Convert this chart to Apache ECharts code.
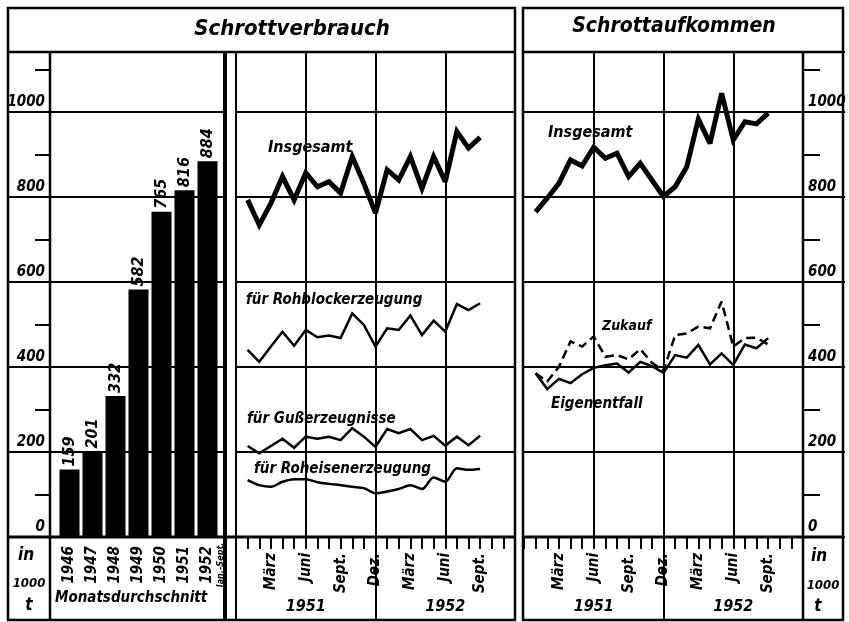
<!DOCTYPE html>
<html>
<head>
<meta charset="utf-8">
<title>Schrottverbrauch / Schrottaufkommen</title>
<script src="https://cdn.jsdelivr.net/npm/echarts@6/dist/echarts.min.js"></script>
<style>
  html, body { margin: 0; padding: 0; background: #fff; }
  #main { width: 849px; height: 622px; }
</style>
</head>
<body>
<div id="main"></div>
<script>
// Monatsdurchschnitt, in 1000 t
var years = ['1946', '1947', '1948', '1949', '1950', '1951', '1952'];
var monthlyAvg = [159, 201, 332, 582, 765, 816, 884];

// Monatsachse Dez. 1950 ... Dez. 1952
var monthKeys = ['1950-12',
  '1951-01', '1951-02', '1951-03', '1951-04', '1951-05', '1951-06',
  '1951-07', '1951-08', '1951-09', '1951-10', '1951-11', '1951-12',
  '1952-01', '1952-02', '1952-03', '1952-04', '1952-05', '1952-06',
  '1952-07', '1952-08', '1952-09', '1952-10', '1952-11', '1952-12'];
var monthLabels = ['',
  '', '', 'März', '', '', 'Juni', '', '', 'Sept.', '', '', 'Dez.',
  '', '', 'März', '', '', 'Juni', '', '', 'Sept.', '', '', ''];
var yearLabels = ['',
  '', '', '', '', '', '1951', '', '', '', '', '', '',
  '', '', '', '', '', '1952', '', '', '', '', '', ''];

// Monatswerte Jan. 1951 - Sept. 1952, in 1000 t
var firstMonth = '1951-01';
var verbrauchGesamt = [793, 734, 785, 848, 793, 857, 824, 836, 809, 895, 832, 762, 864, 840, 895, 820, 895, 836, 954, 915, 940];
var rohblock = [440, 412, 448, 483, 450, 487, 470, 474, 468, 526, 499, 448, 491, 487, 521, 475, 509, 483, 548, 534, 550];
var guss = [214, 197, 214, 231, 210, 236, 231, 236, 228, 256, 236, 212, 254, 244, 254, 228, 238, 215, 236, 216, 238];
var roheisen = [134, 122, 118, 130, 136, 136, 129, 125, 122, 118, 115, 103, 107, 113, 122, 113, 140, 130, 162, 158, 160];
var aufkommenGesamt = [765, 797, 832, 887, 873, 917, 891, 903, 848, 879, 840, 801, 824, 871, 983, 926, 1044, 934, 977, 972, 997];
var zukauf = [385, 366, 400, 460, 448, 472, 424, 428, 418, 442, 410, 391, 475, 479, 495, 491, 554, 448, 468, 469, 453];
var eigenentfall = [385, 348, 372, 362, 383, 398, 404, 408, 387, 412, 402, 386, 428, 422, 452, 406, 432, 405, 453, 444, 468];

var FAMILY = '"Liberation Sans Narrow", "DejaVu Sans Condensed", "Liberation Sans", sans-serif';
var INK = '#000';
var Y_MAX = 1141;

function txt(size) {
  return { color: INK, fontFamily: FAMILY, fontStyle: 'italic', fontWeight: 'bold', fontSize: size };
}

// Monatswerte auf die Kategorieachse legen
function toPoints(arr) {
  var start = monthKeys.indexOf(firstMonth);
  return arr.map(function (v, i) { return [start + i, v]; });
}

function lineSeries(name, data, axisIndex, width, extra) {
  var s = {
    name: name,
    type: 'line',
    xAxisIndex: axisIndex,
    yAxisIndex: axisIndex === 2 ? 3 : 5,
    data: toPoints(data),
    showSymbol: false,
    symbol: 'none',
    silent: true,
    lineStyle: { color: INK, width: width, join: 'miter', miterLimit: 3, cap: 'butt' },
    z: 5
  };
  if (extra) {
    for (var k in extra) s[k] = extra[k];
  }
  return s;
}

// Monatsachse (Striche + Monatsnamen + Gitter)
function monthAxis(grid) {
  return {
    type: 'category', gridIndex: grid, position: 'bottom', data: monthKeys, boundaryGap: false,
    axisLine: { show: false },
    axisTick: { show: true, interval: 0, length: 12, lineStyle: { color: INK, width: 2 } },
    axisLabel: {
      interval: function (i) { return monthLabels[i] !== ''; },
      formatter: function (v, i) { return monthLabels[i]; },
      rotate: 90, margin: 16, ...txt(15)
    },
    splitLine: {
      show: true,
      interval: function (i) { return i > 0 && i < monthKeys.length - 1 && i % 6 === 0; },
      lineStyle: { color: INK, width: 2 }
    }
  };
}

// Jahreszahlen unter der Monatsachse + Trennstrich am Jahresende
function yearAxis(grid) {
  return {
    type: 'category', gridIndex: grid, position: 'bottom', data: monthKeys, boundaryGap: false,
    axisLine: { show: false },
    axisTick: {
      show: true, length: 83,
      interval: function (i) { return monthKeys[i] === '1951-12'; },
      lineStyle: { color: INK, width: 2 }
    },
    axisLabel: {
      interval: function (i) { return yearLabels[i] !== ''; },
      formatter: function (v, i) { return yearLabels[i]; },
      margin: 62, ...txt(16)
    },
    splitLine: { show: false }
  };
}

// kleine Striche alle 100
function minorY(grid, pos, len) {
  return {
    type: 'value', gridIndex: grid, position: pos, min: 0, max: Y_MAX, interval: 100,
    axisLine: { show: false },
    axisTick: { show: true, length: len, lineStyle: { color: INK, width: 2 } },
    axisLabel: { show: false },
    splitLine: { show: false }
  };
}

// Hauptteilung alle 200 mit Beschriftung
function majorY(grid, pos, labels) {
  return {
    type: 'value', gridIndex: grid, position: pos, min: 0, max: Y_MAX, interval: 200,
    axisLine: { show: false },
    axisTick: { show: labels, length: 42, lineStyle: { color: INK, width: 2 } },
    axisLabel: {
      show: labels, margin: 5, verticalAlign: 'bottom', padding: [0, 0, 2, 0],
      formatter: function (v) { return v % 200 === 0 ? String(v) : ''; },
      ...txt(15)
    },
    splitLine: { show: true, lineStyle: { color: INK, width: 2 } }
  };
}

function hline(x1, x2, y, w) {
  return { type: 'line', shape: { x1: x1, y1: y, x2: x2, y2: y }, style: { stroke: INK, lineWidth: w }, z: 10 };
}
function vline(x, y1, y2, w) {
  return { type: 'line', shape: { x1: x, y1: y1, x2: x, y2: y2 }, style: { stroke: INK, lineWidth: w }, z: 10 };
}
function label(s, x, y, size, align, rot) {
  return {
    type: 'text', x: x, y: y, rotation: rot || 0, z: 11,
    style: { text: s, fill: INK, font: 'italic bold ' + size + 'px ' + FAMILY, textAlign: align || 'center', textVerticalAlign: 'middle' }
  };
}

var chart = echarts.init(document.getElementById('main'), null, { renderer: 'canvas' });

var option = {
  backgroundColor: '#fff',
  animation: false,
  grid: [
    { left: 50, top: 52, width: 175, height: 485 },   // Achse Balken
    { left: 58, top: 52, width: 161, height: 485 },   // Balken
    { left: 236, top: 52, width: 279, height: 485 },  // Verbrauch monatlich
    { left: 524, top: 52, width: 279, height: 485 }   // Aufkommen
  ],
  xAxis: [
    { type: 'value', gridIndex: 0, min: 0, max: 1, show: false },
    {
      type: 'category', gridIndex: 1, data: years,
      axisLine: { show: false }, axisTick: { show: false },
      axisLabel: { interval: 0, rotate: 90, margin: 9, ...txt(15) }
    },
    monthAxis(2),
    yearAxis(2),
    monthAxis(3),
    yearAxis(3)
  ],
  yAxis: [
    minorY(0, 'left', 15),
    majorY(0, 'left', true),
    { type: 'value', gridIndex: 1, min: 0, max: Y_MAX, show: false },
    majorY(2, 'left', false),
    minorY(3, 'right', 17),
    majorY(3, 'right', true)
  ],
  series: [
    {
      name: 'Monatsdurchschnitt', type: 'bar', xAxisIndex: 1, yAxisIndex: 2,
      data: monthlyAvg, barWidth: 20, silent: true,
      itemStyle: { color: INK },
      label: {
        show: true, position: 'top', rotate: 90, align: 'left', verticalAlign: 'middle',
        distance: 3, ...txt(16)
      },
      z: 5
    },
    lineSeries('Insgesamt', verbrauchGesamt, 2, 5),
    lineSeries('für Rohblockerzeugung', rohblock, 2, 2.5),
    lineSeries('für Gußerzeugnisse', guss, 2, 2.5),
    lineSeries('für Roheisenerzeugung', roheisen, 2, 2.5, { smooth: 0.3 }),
    lineSeries('Insgesamt', aufkommenGesamt, 4, 5),
    lineSeries('Zukauf', zukauf, 4, 2.5),
    lineSeries('Eigenentfall', eigenentfall, 4, 2.5)
  ],
  graphic: [
    // Rahmen links
    { type: 'rect', shape: { x: 8, y: 8, width: 507, height: 612 }, style: { stroke: INK, fill: null, lineWidth: 2.5 }, z: 10 },
    hline(8, 515, 52, 2.5),
    hline(8, 515, 537, 3),
    vline(50, 52, 620, 2.5),
    vline(225, 52, 620, 4),
    vline(236, 52, 620, 2),
    // Rahmen rechts
    { type: 'rect', shape: { x: 523, y: 8, width: 320, height: 612 }, style: { stroke: INK, fill: null, lineWidth: 2.5 }, z: 10 },
    hline(523, 843, 52, 2.5),
    hline(523, 843, 537, 3),
    vline(803, 52, 620, 2.5),
    // Texte
    label('Schrottverbrauch', 292, 29, 22),
    label('Schrottaufkommen', 674, 27, 21),
    label('Insgesamt', 268, 148, 16, 'left'),
    label('für Rohblockerzeugung', 246, 300, 15, 'left'),
    label('für Gußerzeugnisse', 247, 419, 15, 'left'),
    label('für Roheisenerzeugung', 254, 469, 15, 'left'),
    label('Insgesamt', 548, 133, 16, 'left'),
    label('Zukauf', 602, 326, 14, 'left'),
    label('Eigenentfall', 551, 404, 15, 'left'),
    label('Monatsdurchschnitt', 55, 598, 15, 'left'),
    label('Jan.-Sept.', 221, 565, 9, 'center', Math.PI / 2),
    label('in', 26, 556, 17),
    label('1000', 29, 584, 13),
    label('t', 29, 606, 17),
    label('in', 819, 557, 17),
    label('1000', 823, 586, 13),
    label('t', 818, 607, 17)
  ]
};

// Strichlinie für Zukauf
option.series[6].lineStyle.type = [9, 5];

chart.setOption(option);
</script>
</body>
</html>
